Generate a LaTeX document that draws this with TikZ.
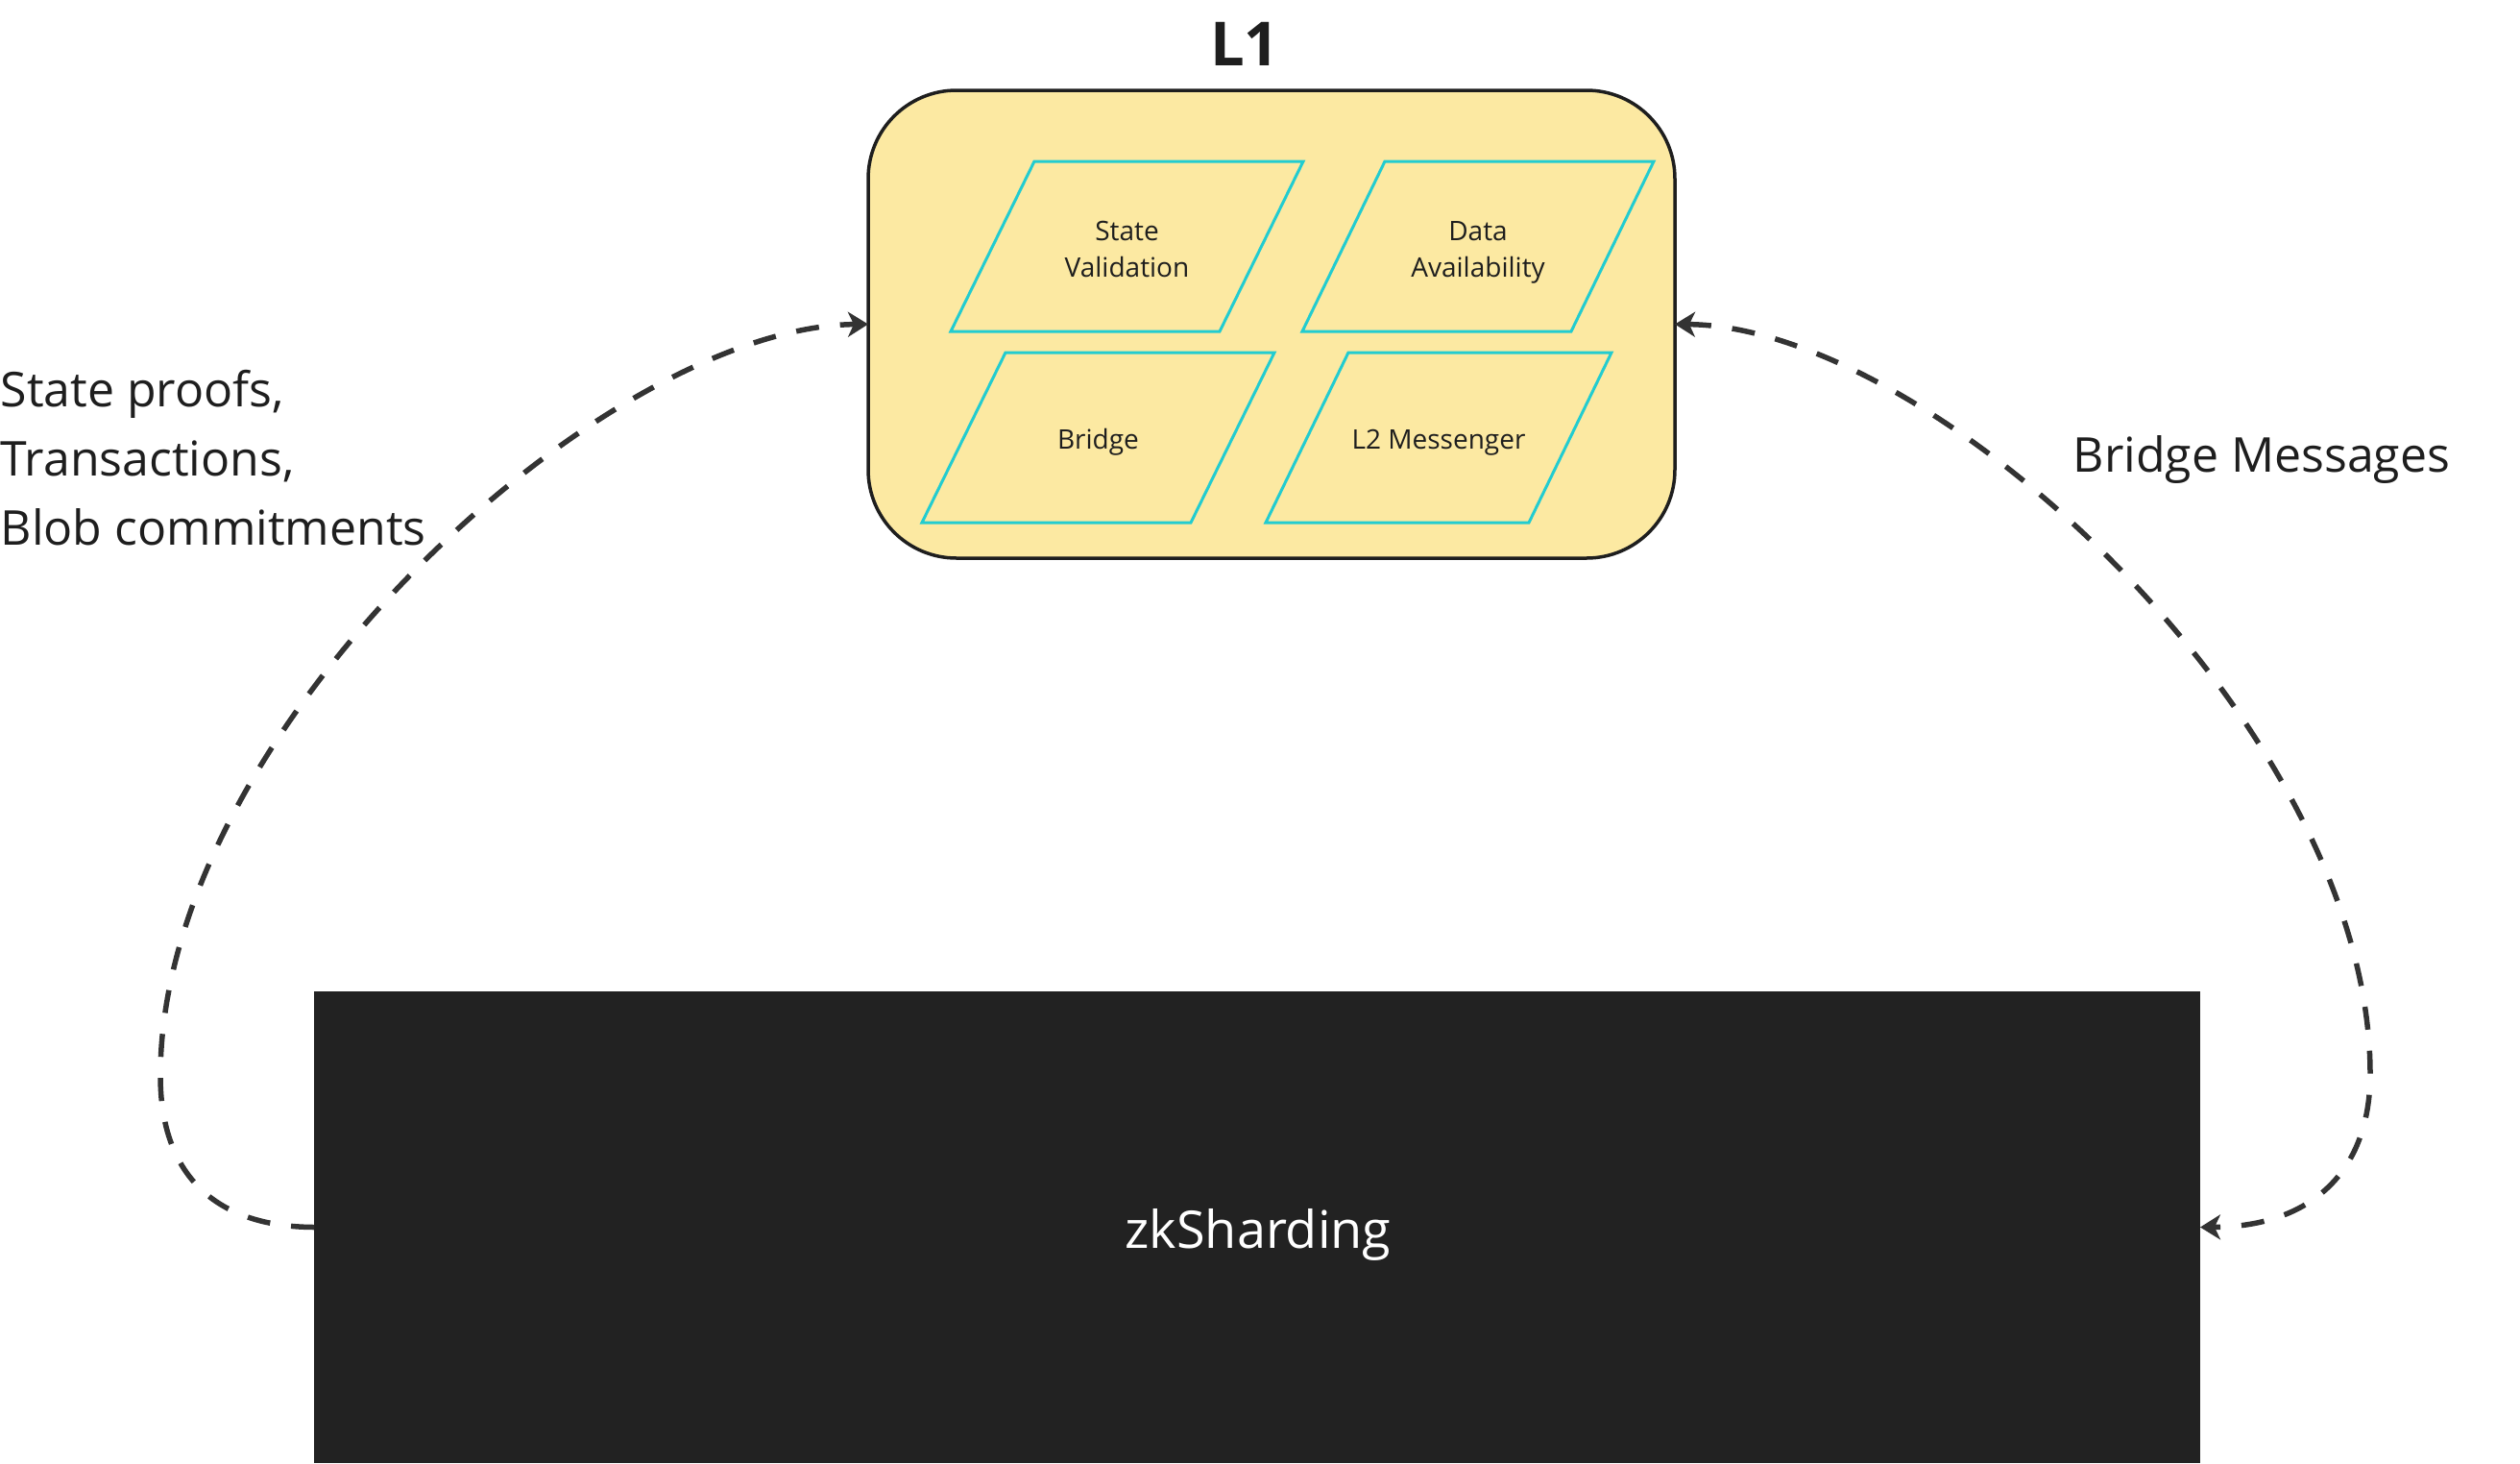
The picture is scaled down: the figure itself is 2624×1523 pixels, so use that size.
\documentclass[tikz,border=0pt]{standalone}
\usepackage{fontspec}
\setmainfont{Open Sans}
\usetikzlibrary{arrows.meta}
\definecolor{boxyellow}{HTML}{FCE9A2}
\definecolor{boxcyan}{HTML}{22CCD0}
\definecolor{inkdark}{HTML}{1E1E1E}
\definecolor{zkfill}{HTML}{222222}
\definecolor{linkgray}{HTML}{333333}
\tikzset{
  l1box/.style={draw=inkdark, line width=1.05pt, fill=boxyellow, rounded corners=27.6pt,
    minimum width=252pt, minimum height=146.1pt, inner sep=0pt, outer sep=0pt},
  zkbox/.style={fill=zkfill, draw=none, minimum width=589.2pt, minimum height=147.3pt,
    inner sep=0pt, outer sep=0pt},
  zktext/.style={text=white, inner sep=0pt, font=\fontsize{16.2pt}{20pt}\selectfont},
  parabox/.style={draw=boxcyan, line width=0.9pt, line join=miter},
  paratext/.style={align=center, text=inkdark, inner sep=0pt,
    font=\fontsize{8.4pt}{11.4pt}\selectfont},
  sidelabel/.style={align=left, text=inkdark, inner sep=0pt,
    font=\fontsize{15pt}{21.6pt}\selectfont},
  titlelabel/.style={text=inkdark, inner sep=0pt,
    font=\fontsize{19pt}{22pt}\selectfont\bfseries},
  link/.style={draw=linkgray, line width=1.65pt, dash pattern=on 7.2pt off 6.6pt},
  tip/.tip={Stealth[length=6.3pt, width=7.8pt, inset=1.8pt]}
}
\begin{document}
\begin{tikzpicture}[x=0.3pt, y=-0.3pt]
\useasboundingbox (0,0) rectangle (2624,1523);

% main boxes
\node[l1box] (l1) at (1324,337.5) {};
\node[zkbox] (zk) at (1309,1277.5) {};
\node[zktext, anchor=base] (zklabel) at (1310,1299) {zkSharding};
\node[titlelabel, anchor=base] (l1title) at (1296,68) {L1};

% parallelograms
\draw[parabox] (1077,168) -- (1357,168) -- (1270,345) -- (990,345) -- cycle;
\node[paratext, anchor=base] (sv) at (1173.5,288) {State\\Validation};
\draw[parabox] (1442,168) -- (1722,168) -- (1636,345) -- (1356,345) -- cycle;
\node[paratext, anchor=base] (da) at (1539,288) {Data\\Availability};
\draw[parabox] (1047,367) -- (1327,367) -- (1240,544) -- (960,544) -- cycle;
\node[paratext, anchor=base] (br) at (1143.5,467) {Bridge};
\draw[parabox] (1404,367) -- (1678,367) -- (1592,544) -- (1318,544) -- cycle;
\node[paratext, anchor=base] (lm) at (1498,467) {L2 Messenger};

% labels
\node[sidelabel, anchor=base west] (leftlabel) at (0,567)
  {State proofs,\\Transactions,\\Blob commitments};
\node[sidelabel, anchor=base west] (rightlabel) at (2158,491) {Bridge Messages};

% connectors
\coordinate (lturn) at (167,1120);
\coordinate (rturn) at (2468,1118);
\draw[link, -{tip}] (zk.west) .. controls (223,1277) and (167,1222) .. (lturn)
  .. controls (167,760) and (630,340) .. (l1.west);
\draw[link, {tip}-{tip}] (l1.east) .. controls (2015,340) and (2468,760) .. (rturn)
  .. controls (2468,1220) and (2406,1277) .. (zk.east);
\end{tikzpicture}
\end{document}
